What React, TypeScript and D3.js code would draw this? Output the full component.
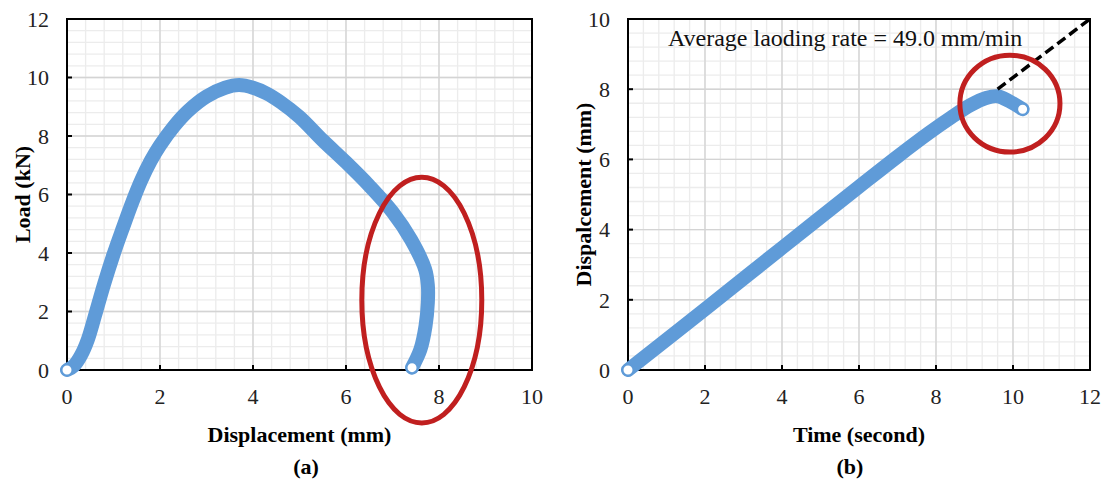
import React, { useRef, useEffect } from 'react';
import * as d3 from 'd3';

// Panel (a): load vs displacement
const dispA = [0, 0.15, 0.3, 0.45, 0.6, 0.8, 1.0, 1.2, 1.4, 1.6, 1.8, 2.0, 2.3, 2.6, 3.0, 3.4, 3.7, 4.0, 4.3, 4.6, 5.0, 5.5, 6.0, 6.5, 7.0, 7.4, 7.7, 7.76, 7.76, 7.71, 7.6, 7.42];
const loadA = [0, 0.15, 0.5, 1.05, 1.85, 2.95, 3.95, 4.85, 5.72, 6.5, 7.15, 7.68, 8.33, 8.85, 9.35, 9.65, 9.74, 9.65, 9.45, 9.15, 8.65, 7.85, 7.1, 6.3, 5.4, 4.45, 3.45, 2.9, 2.3, 1.5, 0.7, 0.08];
// highlight ellipse in data units: [cx, cy, rx, ry]
const ellipseA = [7.63, 2.39, 1.29, 4.2];

// Panel (b): displacement vs time
const timeB = [0, 2, 4, 6, 7, 7.8, 8.4, 8.9, 9.3, 9.6, 9.9, 10.25];
const dispB = [0, 1.73, 3.48, 5.22, 6.08, 6.74, 7.2, 7.55, 7.75, 7.8, 7.66, 7.43];
const fitTime = [9.6, 12];
const fitDisp = [8.0, 10];
const ellipseB = [9.92, 7.59, 1.3, 1.38];

const ticksA_x = [0, 2, 4, 6, 8, 10];
const ticksA_y = [0, 2, 4, 6, 8, 10, 12];
const ticksB_x = [0, 2, 4, 6, 8, 10, 12];
const ticksB_y = [0, 2, 4, 6, 8, 10];

const BLUE = '#5f9bd8';
const RED = '#c01f1f';
const FONT = 'Liberation Serif, serif';

const drawPanel = (root, p) => {
  const x = d3.scaleLinear().domain(p.xDomain).range([p.left, p.right]);
  const y = d3.scaleLinear().domain(p.yDomain).range([p.bottom, p.top]);
  const g = root.append('g').attr('font-family', FONT);

  // minor grid every 0.4
  const minorX = d3.range(p.xDomain[0], p.xDomain[1] + 1e-9, 0.4);
  const minorY = d3.range(p.yDomain[0], p.yDomain[1] + 1e-9, 0.4);
  g.selectAll('.mx').data(minorX).enter().append('line')
    .attr('x1', d => x(d)).attr('x2', d => x(d))
    .attr('y1', p.top).attr('y2', p.bottom)
    .attr('stroke', '#ececec').attr('stroke-width', 1.3);
  g.selectAll('.my').data(minorY).enter().append('line')
    .attr('y1', d => y(d)).attr('y2', d => y(d))
    .attr('x1', p.left).attr('x2', p.right)
    .attr('stroke', '#ececec').attr('stroke-width', 1.3);

  // major grid
  g.selectAll('.gx').data(p.xTicks).enter().append('line')
    .attr('x1', d => x(d)).attr('x2', d => x(d))
    .attr('y1', p.top).attr('y2', p.bottom)
    .attr('stroke', '#d4d4d4').attr('stroke-width', 1.4);
  g.selectAll('.gy').data(p.yTicks).enter().append('line')
    .attr('y1', d => y(d)).attr('y2', d => y(d))
    .attr('x1', p.left).attr('x2', p.right)
    .attr('stroke', '#d4d4d4').attr('stroke-width', 1.4);

  // frame
  g.append('rect')
    .attr('x', p.left).attr('y', p.top)
    .attr('width', p.right - p.left).attr('height', p.bottom - p.top)
    .attr('fill', 'none').attr('stroke', '#000').attr('stroke-width', 2);

  // ticks inside
  g.selectAll('.tx').data(p.xTicks).enter().append('line')
    .attr('x1', d => x(d)).attr('x2', d => x(d))
    .attr('y1', p.bottom).attr('y2', p.bottom - 5)
    .attr('stroke', '#000').attr('stroke-width', 2);
  g.selectAll('.ty').data(p.yTicks).enter().append('line')
    .attr('y1', d => y(d)).attr('y2', d => y(d))
    .attr('x1', p.left).attr('x2', p.left + 5)
    .attr('stroke', '#000').attr('stroke-width', 2);

  // tick labels
  g.selectAll('.lx').data(p.xTicks).enter().append('text')
    .attr('x', d => x(d)).attr('y', p.bottom + 34)
    .attr('text-anchor', 'middle')
    .attr('font-size', 22).attr('fill', '#222')
    .text(d => d);
  g.selectAll('.ly').data(p.yTicks).enter().append('text')
    .attr('x', p.left - 18).attr('y', d => y(d)).attr('dy', '0.35em')
    .attr('text-anchor', 'end')
    .attr('font-size', 22).attr('fill', '#222')
    .text(d => d);

  // axis titles
  g.append('text')
    .attr('x', (p.left + p.right) / 2).attr('y', 442)
    .attr('text-anchor', 'middle')
    .attr('font-size', 22).attr('font-weight', 'bold')
    .text(p.xTitle);
  g.append('text')
    .attr('transform', `translate(${p.left - 37},${(p.top + p.bottom) / 2}) rotate(-90)`)
    .attr('text-anchor', 'middle')
    .attr('font-size', 22).attr('font-weight', 'bold')
    .text(p.yTitle);
  g.append('text')
    .attr('x', p.panelX).attr('y', 474)
    .attr('text-anchor', 'middle')
    .attr('font-size', 22).attr('font-weight', 'bold')
    .text(p.panel);

  // data line
  const pts = p.xs.map((v, i) => [v, p.ys[i]]);
  const line = d3.line().x(d => x(d[0])).y(d => y(d[1])).curve(d3.curveCatmullRom.alpha(0.5));
  g.append('path')
    .attr('d', line(pts))
    .attr('fill', 'none').attr('stroke', BLUE).attr('stroke-width', 14)
    .attr('stroke-linejoin', 'round').attr('stroke-linecap', 'round');

  // end markers
  g.selectAll('.mk').data([pts[0], pts[pts.length - 1]]).enter().append('circle')
    .attr('cx', d => x(d[0])).attr('cy', d => y(d[1])).attr('r', 5.5)
    .attr('fill', '#fff').attr('stroke', BLUE).attr('stroke-width', 2);

  if (p.extra) p.extra(g, x, y);

  // red highlight
  const [cx, cy, rx, ry] = p.ellipse;
  g.append('ellipse')
    .attr('cx', x(cx)).attr('cy', y(cy))
    .attr('rx', x(cx + rx) - x(cx)).attr('ry', y(cy) - y(cy + ry))
    .attr('fill', 'none').attr('stroke', RED).attr('stroke-width', 5);
};

const App = () => {
  const svgRef = useRef(null);

  useEffect(() => {
    const svg = d3.select(svgRef.current);
    svg.selectAll('*').remove();

    drawPanel(svg, {
      left: 67, right: 532, top: 19, bottom: 370,
      xDomain: [0, 10], yDomain: [0, 12],
      xTicks: ticksA_x, yTicks: ticksA_y,
      xTitle: 'Displacement (mm)', yTitle: 'Load (kN)',
      panel: '(a)', panelX: 306,
      xs: dispA, ys: loadA, ellipse: ellipseA,
    });

    drawPanel(svg, {
      left: 628, right: 1090, top: 19, bottom: 370,
      xDomain: [0, 12], yDomain: [0, 10],
      xTicks: ticksB_x, yTicks: ticksB_y,
      xTitle: 'Time (second)', yTitle: 'Dispalcement (mm)',
      panel: '(b)', panelX: 850,
      xs: timeB, ys: dispB, ellipse: ellipseB,
      extra: (g, x, y) => {
        const fit = fitTime.map((v, i) => [v, fitDisp[i]]);
        g.append('path')
          .attr('d', d3.line().x(d => x(d[0])).y(d => y(d[1]))(fit))
          .attr('fill', 'none').attr('stroke', '#000').attr('stroke-width', 3.5)
          .attr('stroke-dasharray', '10,5');
        g.append('text')
          .attr('x', 668).attr('y', 46)
          .attr('font-size', 24).attr('fill', '#111')
          .text('Average laoding rate = 49.0 mm/min');
      },
    });
  }, []);

  return (
    <svg ref={svgRef} width={1104} height={482}
      style={{ position: 'absolute', left: 0, top: 0, background: '#fff' }} />
  );
};

export default App;
